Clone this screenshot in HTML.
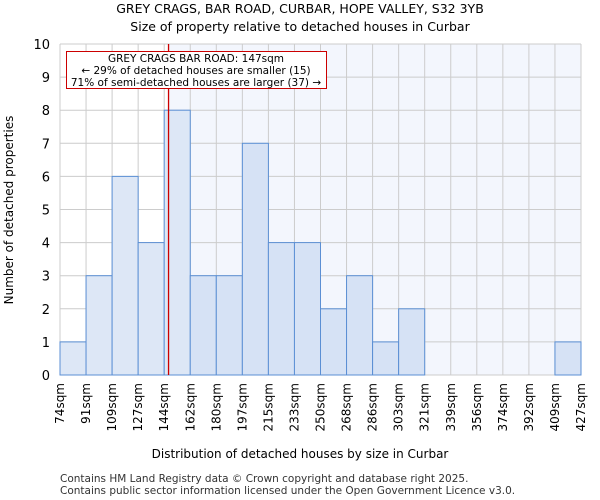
<!DOCTYPE html>
<html><head><meta charset="utf-8"><style>body{margin:0;background:#fff}svg{display:block;font-family:"DejaVu Sans","Liberation Sans",sans-serif}</style></head>
<body>
<svg id="c" width="600" height="500">
<text x="300" y="13" text-anchor="middle" font-size="12.5">GREY CRAGS, BAR ROAD, CURBAR, HOPE VALLEY, S32 3YB</text>
<text x="300" y="31" text-anchor="middle" font-size="12.5">Size of property relative to detached houses in Curbar</text>
<g id="plot"></g>
<text x="300" y="458" text-anchor="middle" font-size="12">Distribution of detached houses by size in Curbar</text>
<text transform="translate(13,210) rotate(-90)" text-anchor="middle" font-size="12">Number of detached properties</text>
<text x="60" y="482" font-size="10.5" fill="#333">Contains HM Land Registry data © Crown copyright and database right 2025.</text>
<text x="60" y="494" font-size="10.5" fill="#333">Contains public sector information licensed under the Open Government Licence v3.0.</text>
</svg>
<script>
const categories=["74sqm","91sqm","109sqm","127sqm","144sqm","162sqm","180sqm","197sqm","215sqm","233sqm","250sqm","268sqm","286sqm","303sqm","321sqm","339sqm","356sqm","374sqm","392sqm","409sqm","427sqm"];
const binEdges=[74,91,109,127,144,162,180,197,215,233,250,268,286,303,321,339,356,374,392,409,427];
const counts=[1,3,6,4,8,3,3,7,4,4,2,3,1,2,0,0,0,0,0,1];
const yTicks=[0,1,2,3,4,5,6,7,8,9,10];
const propertySize=147;
const NS="http://www.w3.org/2000/svg";
const g=document.getElementById('plot');
const X0=60,X1=581,Y0=375,Y1=44;
const bw=(X1-X0)/counts.length;
function xIdx(i){return X0+i*bw;}
function xVal(v){for(let i=0;i<binEdges.length-1;i++){if(v<=binEdges[i+1])return xIdx(i)+(v-binEdges[i])/(binEdges[i+1]-binEdges[i])*bw;}return X1;}
function y(v){return Y0-(v/10)*(Y0-Y1);}
function mk(t,a){const e=document.createElementNS(NS,t);for(const k in a)e.setAttribute(k,a[k]);g.appendChild(e);return e;}
const px=xVal(propertySize);
let e=mk('rect',{x:px,y:Y1,width:X1-px,height:Y0-Y1,fill:'#f3f6fd'});


yTicks.forEach(t=>{const l=mk('line',{x1:X0,x2:X1,y1:y(t),y2:y(t),stroke:'#cccccc'});


const tx=mk('text',{x:X0-10,y:y(t)+5,'text-anchor':'end','font-size':'13'});tx.textContent=t;

});
categories.forEach((c,i)=>{const l=mk('line',{x1:xIdx(i),x2:xIdx(i),y1:Y1,y2:Y0,stroke:'#cccccc'});


const xx=xIdx(i)+4;const tx=mk('text',{x:xx,y:383,'text-anchor':'end','font-size':'12',transform:`rotate(-90 ${xx} 383)`});tx.textContent=c;

});
counts.forEach((v,i)=>{if(v<=0)return;const r=mk('rect',{x:xIdx(i),y:y(v),width:bw,height:Y0-y(v),fill:xIdx(i)<px?'#dde7f6':'#d6e2f5',stroke:'#5b8fd4','stroke-width':1});

});
e=mk('line',{x1:px,x2:px,y1:Y1,y2:Y0,stroke:'#cc0000','stroke-width':1.3});


e=mk('rect',{x:66.5,y:51.5,width:260,height:37,fill:'#fff',stroke:'#cc0000'});


["GREY CRAGS BAR ROAD: 147sqm","← 29% of detached houses are smaller (15)","71% of semi-detached houses are larger (37) →"].forEach((s,i)=>{const t=mk('text',{x:196,y:62+i*12,'text-anchor':'middle','font-size':'10.5'});t.textContent=s;

});
</script>
</body></html>
